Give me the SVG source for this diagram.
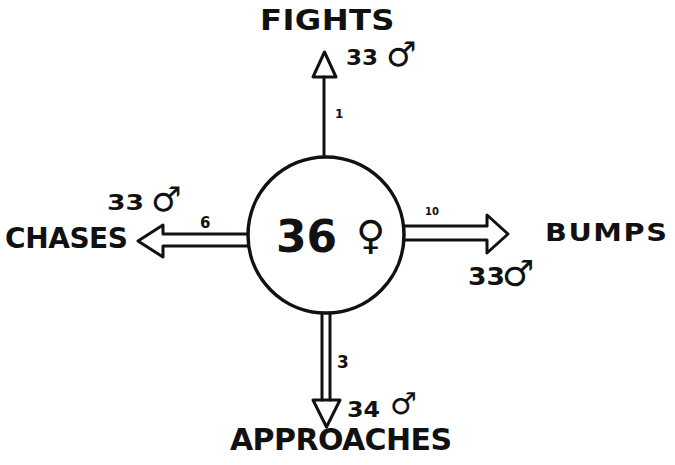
<svg xmlns="http://www.w3.org/2000/svg" width="675" height="465" viewBox="0 0 675 465">
<style>
.bg{fill:#fff}
.ln{fill:none;stroke:#111;stroke-width:3;stroke-linejoin:round;stroke-linecap:round}
.lbl{font-family:"DejaVu Sans","Liberation Sans",sans-serif;font-weight:bold;fill:#111}
.sym{font-family:"DejaVu Sans",sans-serif;fill:#111}
</style>
<rect class="bg" x="0" y="0" width="675" height="465"/>
<g id="connectors">
  <g id="arrow-fights">
    <line class="ln" x1="324" y1="157" x2="324" y2="77"/>
    <polygon class="ln" points="313,77 336,77 324.5,52"/>
    <text class="lbl" x="335" y="118" font-size="12">1</text>
  </g>
  <g id="arrow-chases">
    <path class="ln" d="M249,234 H163 V225 L138,241 L163,257 V246 H249"/>
    <text class="lbl" x="200" y="228" font-size="15">6</text>
  </g>
  <g id="arrow-bumps">
    <path class="ln" d="M404,226 H487 V215 L508,234 L487,253 V240 H404"/>
    <text class="lbl" x="425" y="215" font-size="10">10</text>
  </g>
  <g id="arrow-approaches">
    <line class="ln" x1="322" y1="312" x2="322" y2="400"/>
    <line class="ln" x1="330" y1="312" x2="330" y2="400"/>
    <polygon class="ln" points="313,400 340,400 326.5,427"/>
    <text class="lbl" x="337" y="368" font-size="17">3</text>
  </g>
</g>
<g id="node-center">
  <circle cx="326" cy="235" r="78" fill="#fff" stroke="#111" stroke-width="3.5"/>
  <text class="lbl" x="276" y="252" font-size="44">36</text>
  <text class="sym" x="356" y="249" font-size="40">♀</text>
</g>
<g id="node-fights">
  <text class="lbl" transform="translate(260,30) scale(1.15,1)" x="0" y="0" font-size="28" textLength="117" lengthAdjust="spacing">FIGHTS</text>
  <text class="lbl" x="346" y="65" font-size="21" textLength="32" lengthAdjust="spacingAndGlyphs">33</text>
  <text class="sym" x="386" y="66" font-size="34">♂</text>
</g>
<g id="node-chases">
  <text class="lbl" x="5" y="248" font-size="28" textLength="123" lengthAdjust="spacing">CHASES</text>
  <text class="lbl" x="107" y="210" font-size="21" textLength="37" lengthAdjust="spacingAndGlyphs">33</text>
  <text class="sym" x="151" y="211" font-size="34">♂</text>
</g>
<g id="node-bumps">
  <text class="lbl" transform="translate(545,241) scale(1.15,1)" x="0" y="0" font-size="25" textLength="106" lengthAdjust="spacing">BUMPS</text>
  <text class="lbl" x="468" y="285" font-size="24" textLength="37" lengthAdjust="spacingAndGlyphs">33</text>
  <text class="sym" x="502" y="286" font-size="36">♂</text>
</g>
<g id="node-approaches">
  <text class="lbl" x="230" y="450" font-size="30" textLength="222" lengthAdjust="spacing">APPROACHES</text>
  <text class="lbl" x="347" y="417" font-size="21" textLength="33" lengthAdjust="spacingAndGlyphs">34</text>
  <text class="sym" x="390" y="414" font-size="30">♂</text>
</g>
</svg>
